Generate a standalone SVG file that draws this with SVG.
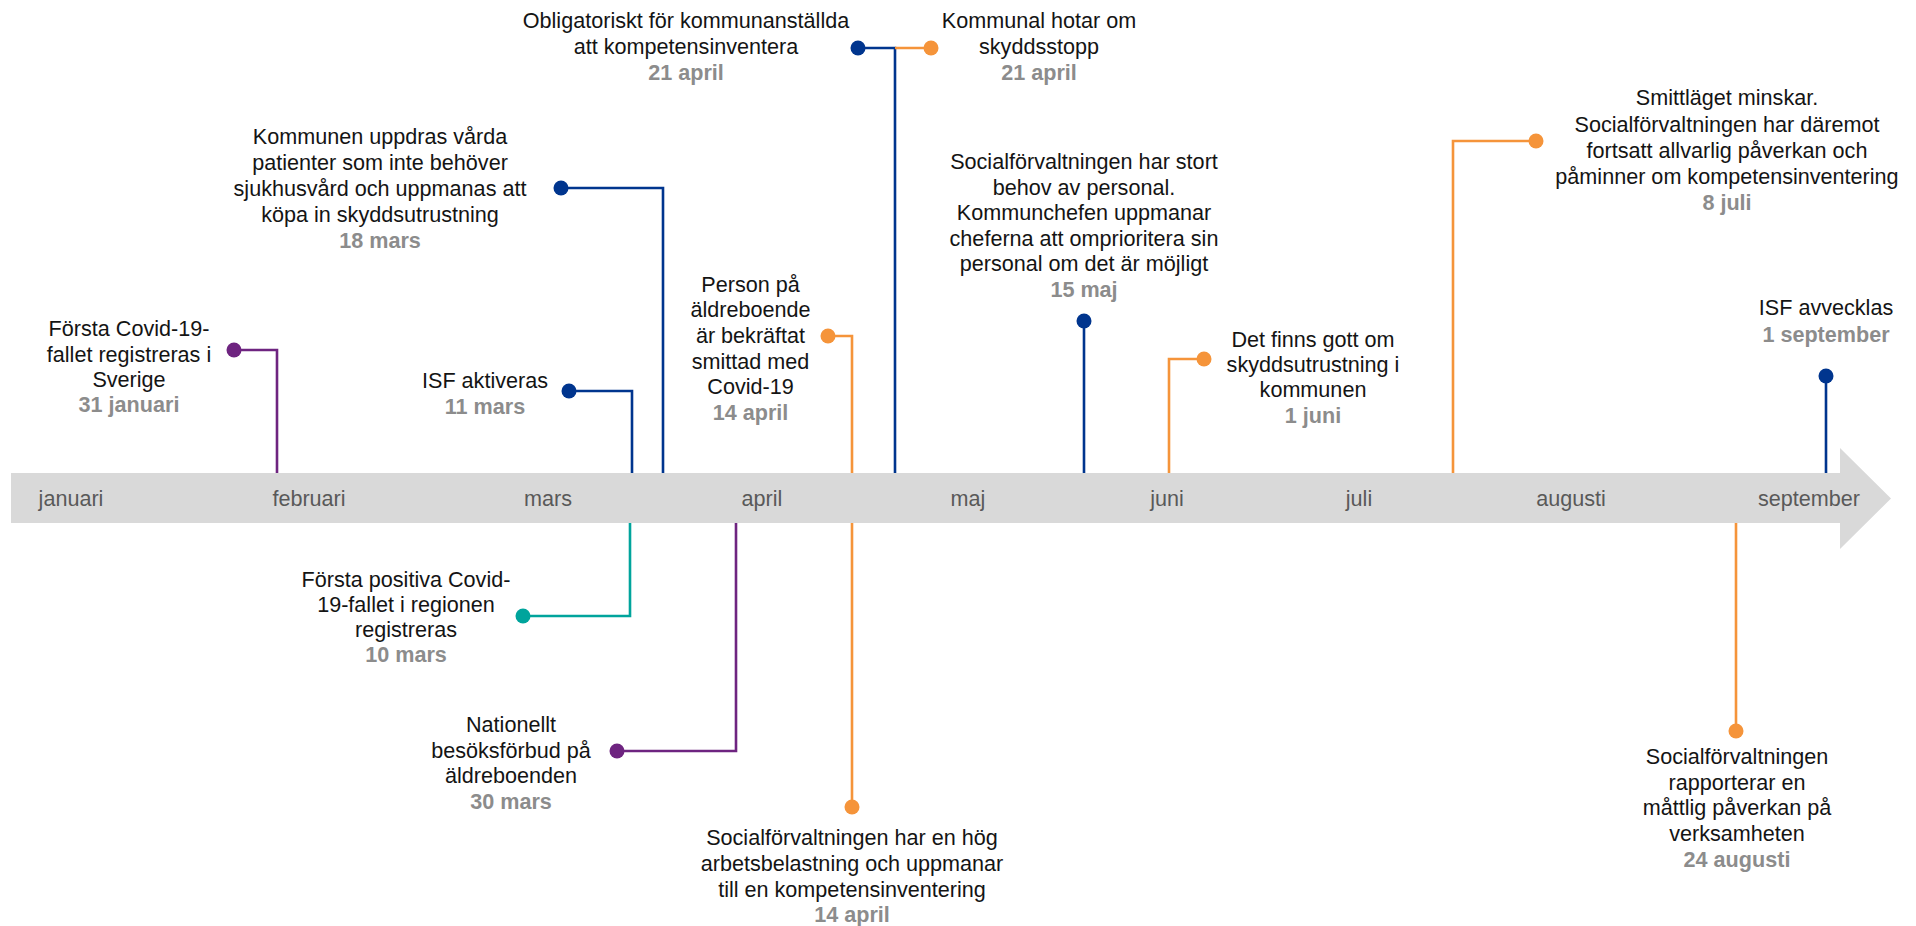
<svg xmlns="http://www.w3.org/2000/svg" width="1916" height="926" viewBox="0 0 1916 926">
  <style>
    text { font-family: "Liberation Sans", Arial, sans-serif; font-size: 21.6px; text-anchor: middle; }
    .t { fill: #141414; }
    .d { fill: #8c8c8c; font-weight: bold; }
    .m { fill: #595959; }
    .ln { fill: none; stroke-width: 2.6; }
    .purple { stroke: #6e2480; }
    .blue { stroke: #00358e; }
    .orange { stroke: #f5943a; }
    .teal { stroke: #00a49c; }
    .fp { fill: #6e2480; }
    .fb { fill: #00358e; }
    .fo { fill: #f5943a; }
    .ft { fill: #00a49c; }
  </style>
  <rect width="1916" height="926" fill="#ffffff"/>

  <!-- timeline band with arrow head -->
  <g id="timeline">
    <polygon points="11,473 1840,473 1840,448 1891,498.5 1840,549 1840,523 11,523" fill="#d9d9d9"/>
    <text class="m" x="71" y="506">januari</text>
    <text class="m" x="309" y="506">februari</text>
    <text class="m" x="548" y="506">mars</text>
    <text class="m" x="762" y="506">april</text>
    <text class="m" x="968" y="506">maj</text>
    <text class="m" x="1167" y="506">juni</text>
    <text class="m" x="1359" y="506">juli</text>
    <text class="m" x="1571" y="506">augusti</text>
    <text class="m" x="1809" y="506">september</text>
  </g>

  <!-- connectors from each event to the band -->
  <g id="connectors">
    <polyline class="ln purple" points="234,350 277,350 277,473"/>
    <polyline class="ln blue" points="569,391 632,391 632,473"/>
    <polyline class="ln teal" points="523,616 630,616 630,523"/>
    <polyline class="ln purple" points="617,751 736,751 736,523"/>
    <polyline class="ln blue" points="561,188 663,188 663,473"/>
    <polyline class="ln blue" points="858,48 895,48 895,473"/>
    <polyline class="ln orange" points="895,48 931,48"/>
    <polyline class="ln orange" points="828,336 852,336 852,473"/>
    <polyline class="ln blue" points="1084,321 1084,473"/>
    <polyline class="ln orange" points="1204,359 1169,359 1169,473"/>
    <polyline class="ln orange" points="1536,141 1453,141 1453,473"/>
    <polyline class="ln blue" points="1826,376 1826,473"/>
    <polyline class="ln orange" points="852,807 852,523"/>
    <polyline class="ln orange" points="1736,731 1736,523"/>
  </g>

  <g id="ev-31-januari">
    <circle class="fp" cx="234" cy="350" r="7.5"/>
    <text class="t" x="129" y="336">Första Covid-19-</text>
    <text class="t" x="129" y="361.5">fallet registreras i</text>
    <text class="t" x="129" y="387">Sverige</text>
    <text class="d" x="129" y="412">31 januari</text>
  </g>

  <g id="ev-11-mars">
    <circle class="fb" cx="569" cy="391" r="7.5"/>
    <text class="t" x="485" y="388">ISF aktiveras</text>
    <text class="d" x="485" y="414">11 mars</text>
  </g>

  <g id="ev-10-mars">
    <circle class="ft" cx="523" cy="616" r="7.5"/>
    <text class="t" x="406" y="587">Första positiva Covid-</text>
    <text class="t" x="406" y="612">19-fallet i regionen</text>
    <text class="t" x="406" y="637">registreras</text>
    <text class="d" x="406" y="662">10 mars</text>
  </g>

  <g id="ev-30-mars">
    <circle class="fp" cx="617" cy="751" r="7.5"/>
    <text class="t" x="511" y="732">Nationellt</text>
    <text class="t" x="511" y="758">besöksförbud på</text>
    <text class="t" x="511" y="783">äldreboenden</text>
    <text class="d" x="511" y="809">30 mars</text>
  </g>

  <g id="ev-18-mars">
    <circle class="fb" cx="561" cy="188" r="7.5"/>
    <text class="t" x="380" y="143.5">Kommunen uppdras vårda</text>
    <text class="t" x="380" y="169.5">patienter som inte behöver</text>
    <text class="t" x="380" y="195.5">sjukhusvård och uppmanas att</text>
    <text class="t" x="380" y="221.5">köpa in skyddsutrustning</text>
    <text class="d" x="380" y="247.5">18 mars</text>
  </g>

  <g id="ev-21-april-a">
    <circle class="fb" cx="858" cy="48" r="7.5"/>
    <text class="t" x="686" y="28">Obligatoriskt för kommunanställda</text>
    <text class="t" x="686" y="54">att kompetensinventera</text>
    <text class="d" x="686" y="80">21 april</text>
  </g>

  <g id="ev-21-april-b">
    <circle class="fo" cx="931" cy="48" r="7.5"/>
    <text class="t" x="1039" y="28">Kommunal hotar om</text>
    <text class="t" x="1039" y="54">skyddsstopp</text>
    <text class="d" x="1039" y="80">21 april</text>
  </g>

  <g id="ev-14-april-a">
    <circle class="fo" cx="828" cy="336" r="7.5"/>
    <text class="t" x="750.5" y="292">Person på</text>
    <text class="t" x="750.5" y="317">äldreboende</text>
    <text class="t" x="750.5" y="343">är bekräftat</text>
    <text class="t" x="750.5" y="368.5">smittad med</text>
    <text class="t" x="750.5" y="394">Covid-19</text>
    <text class="d" x="750.5" y="420">14 april</text>
  </g>

  <g id="ev-15-maj">
    <circle class="fb" cx="1084" cy="321" r="7.5"/>
    <text class="t" x="1084" y="168.5">Socialförvaltningen har stort</text>
    <text class="t" x="1084" y="194.5">behov av personal.</text>
    <text class="t" x="1084" y="220">Kommunchefen uppmanar</text>
    <text class="t" x="1084" y="245.5">cheferna att omprioritera sin</text>
    <text class="t" x="1084" y="271">personal om det är möjligt</text>
    <text class="d" x="1084" y="297">15 maj</text>
  </g>

  <g id="ev-1-juni">
    <circle class="fo" cx="1204" cy="359" r="7.5"/>
    <text class="t" x="1313" y="347">Det finns gott om</text>
    <text class="t" x="1313" y="372">skyddsutrustning i</text>
    <text class="t" x="1313" y="397">kommunen</text>
    <text class="d" x="1313" y="423">1 juni</text>
  </g>

  <g id="ev-8-juli">
    <circle class="fo" cx="1536" cy="141" r="7.5"/>
    <text class="t" x="1727" y="105">Smittläget minskar.</text>
    <text class="t" x="1727" y="131.5">Socialförvaltningen har däremot</text>
    <text class="t" x="1727" y="157.5">fortsatt allvarlig påverkan och</text>
    <text class="t" x="1727" y="183.5">påminner om kompetensinventering</text>
    <text class="d" x="1727" y="209.5">8 juli</text>
  </g>

  <g id="ev-1-september">
    <circle class="fb" cx="1826" cy="376" r="7.5"/>
    <text class="t" x="1826" y="315">ISF avvecklas</text>
    <text class="d" x="1826" y="341.5">1 september</text>
  </g>

  <g id="ev-14-april-b">
    <circle class="fo" cx="852" cy="807" r="7.5"/>
    <text class="t" x="852" y="845">Socialförvaltningen har en hög</text>
    <text class="t" x="852" y="871">arbetsbelastning och uppmanar</text>
    <text class="t" x="852" y="897">till en kompetensinventering</text>
    <text class="d" x="852" y="922">14 april</text>
  </g>

  <g id="ev-24-augusti">
    <circle class="fo" cx="1736" cy="731" r="7.5"/>
    <text class="t" x="1737" y="763.5">Socialförvaltningen</text>
    <text class="t" x="1737" y="789.5">rapporterar en</text>
    <text class="t" x="1737" y="815">måttlig påverkan på</text>
    <text class="t" x="1737" y="840.5">verksamheten</text>
    <text class="d" x="1737" y="866.5">24 augusti</text>
  </g>
</svg>
